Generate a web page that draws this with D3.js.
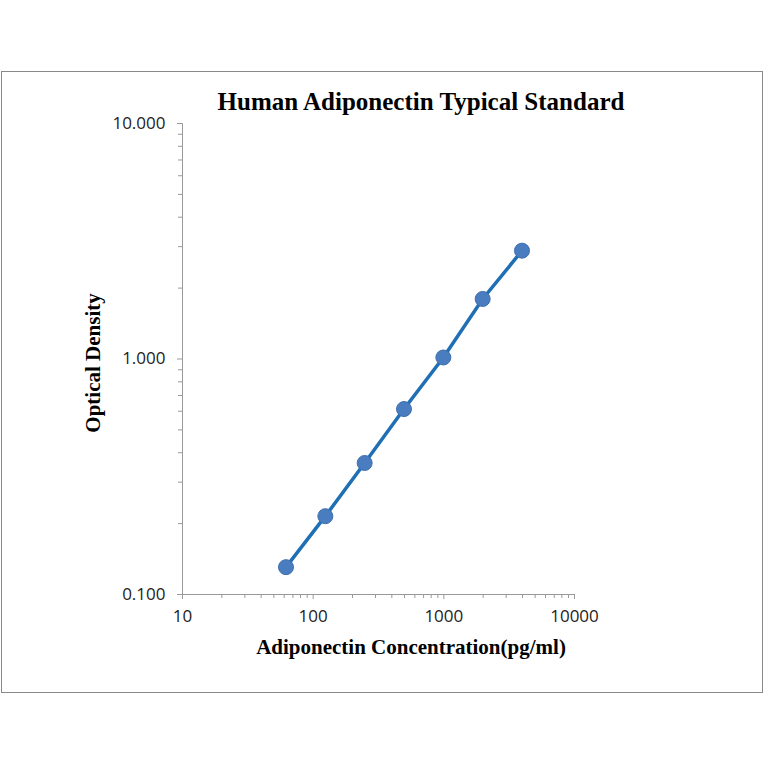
<!DOCTYPE html>
<html><head><meta charset="utf-8">
<script src="https://cdn.jsdelivr.net/npm/d3@7"></script>
<style>body{margin:0;background:#fff}</style>
</head><body>
<svg id="chart" width="764" height="764"></svg>
<script>
const concentrations = [62.5, 125, 250, 500, 1000, 2000, 4000];
const opticalDensity = [0.130, 0.214, 0.360, 0.610, 1.010, 1.790, 2.870];
const xTicks = [10, 100, 1000, 10000];
const yTicks = [0.1, 1, 10];

const svg = d3.select('#chart');
svg.append('rect').attr('x', 1.5).attr('y', 71.5).attr('width', 761).attr('height', 621)
  .attr('fill', '#fff').attr('stroke', '#888');

const x = d3.scaleLog().domain([10, 10000]).range([182, 574]);
const y = d3.scaleLog().domain([0.1, 10]).range([594, 123]);

const minorX = [], minorY = [];
for (let d = 10; d < 10000; d *= 10) for (let k = 2; k < 10; k++) minorX.push(d * k);
for (let d = 0.1; d < 9; d *= 10) for (let k = 2; k < 10; k++) minorY.push(d * k);

const xAxis = svg.append('g').attr('transform', 'translate(0,594)')
  .call(d3.axisBottom(x).tickValues(xTicks).tickSize(5).tickFormat(d => d));
svg.append('g').attr('transform', 'translate(0,594)')
  .call(d3.axisBottom(x).tickValues(minorX).tickSize(4).tickFormat(''))
  .select('.domain').remove();
const yAxis = svg.append('g').attr('transform', 'translate(182,0)')
  .call(d3.axisLeft(y).tickValues(yTicks).tickSize(5).tickFormat(d3.format('.3f')));
svg.append('g').attr('transform', 'translate(182,0)')
  .call(d3.axisLeft(y).tickValues(minorY).tickSize(4).tickFormat(''))
  .select('.domain').remove();

svg.selectAll('.domain, .tick line').attr('stroke', '#999');
svg.selectAll('.tick text').attr('font-family', 'Open Sans, Liberation Sans, sans-serif')
  .attr('font-size', 17).attr('fill', '#222');
xAxis.selectAll('.tick text').attr('dy', '1.2em');
yAxis.selectAll('.tick text').attr('dx', '-0.5em');

const pts = concentrations.map((c, i) => ({ c, od: opticalDensity[i] }));
svg.append('path').datum(pts)
  .attr('d', d3.line().x(d => x(d.c)).y(d => y(d.od)))
  .attr('fill', 'none').attr('stroke', '#1f6fb5').attr('stroke-width', 3.5);
svg.append('g').selectAll('circle').data(pts).enter().append('circle')
  .attr('cx', d => x(d.c)).attr('cy', d => y(d.od)).attr('r', 7.5)
  .attr('fill', '#4a7dbf').attr('stroke', '#3f6fae').attr('stroke-width', 1);

const serif = 'Liberation Serif, Times New Roman, serif';
svg.append('text').text('Human Adiponectin Typical Standard')
  .attr('x', 421).attr('y', 110).attr('text-anchor', 'middle')
  .attr('font-family', serif).attr('font-weight', 'bold').attr('font-size', 25);
svg.append('text').text('Adiponectin Concentration(pg/ml)')
  .attr('x', 411).attr('y', 654).attr('text-anchor', 'middle')
  .attr('font-family', serif).attr('font-weight', 'bold').attr('font-size', 21);
svg.append('text').text('Optical Density')
  .attr('transform', 'translate(100,363) rotate(-90)').attr('text-anchor', 'middle')
  .attr('font-family', serif).attr('font-weight', 'bold').attr('font-size', 21);
</script>
</body></html>
